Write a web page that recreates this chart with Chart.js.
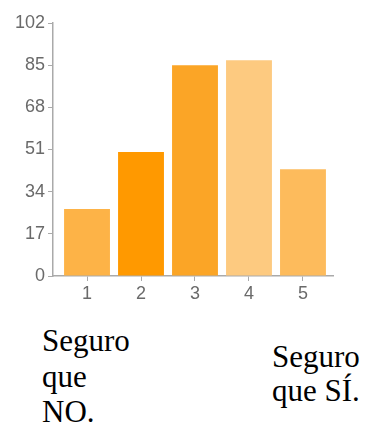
<!DOCTYPE html>
<html>
<head>
<meta charset="utf-8">
<script src="https://cdn.jsdelivr.net/npm/chart.js@4"></script>
<style>
  body { margin: 0; background: #fff; width: 366px; height: 424px; overflow: hidden; position: relative; }
  #wrap { position: absolute; left: 0; top: 0; width: 366px; height: 310px; }
  .note { position: absolute; font-family: 'Liberation Serif', 'Times New Roman', serif; font-size: 31px; color: #000; }
  #noteLeft { left: 42px; top: 323px; line-height: 35.5px; }
  #noteRight { left: 272px; top: 340px; line-height: 33.5px; }
</style>
</head>
<body>
<div id="wrap"><canvas id="chart" width="366" height="310"></canvas></div>
<div class="note" id="noteLeft">Seguro<br>que<br>NO.</div>
<div class="note" id="noteRight">Seguro<br>que SÍ.</div>
<script>
const categories = [1, 2, 3, 4, 5];
const answers = [27, 50, 85, 87, 43];
const barColors = ["#fdb347", "#ff9900", "#fba526", "#fdca80", "#fdbb5c"];
const yTicks = [0, 17, 34, 51, 68, 85, 102];

const axisGrey = "#aaaaaa";
const labelGrey = "#6a6a6a";
const tickFont = { family: "'Liberation Sans', Arial, sans-serif", size: 18 };

const ctx = document.getElementById("chart").getContext("2d");

new Chart(ctx, {
    type: "bar",
    data: {
        datasets: [{
            data: categories.map((c, i) => ({ x: c, y: answers[i] })),
            backgroundColor: barColors,
            borderWidth: 0,
            categoryPercentage: 1,
            barPercentage: 0.85
        }]
    },
    options: {
        responsive: false,
        animation: false,
        layout: { padding: { top: 23, right: 33, left: 0, bottom: 0 } },
        plugins: { legend: { display: false }, tooltip: { enabled: false } },
        scales: {
            x: {
                type: "linear",
                min: 0.37,
                max: 5.556,
                offset: false,
                grid: { offset: false, drawOnChartArea: false, drawTicks: true, tickLength: 5, color: axisGrey },
                border: { color: axisGrey, width: 1.5 },
                ticks: { stepSize: 1, includeBounds: false, padding: 2, color: labelGrey, font: tickFont },
                afterFit: scale => { scale.height = 34; }
            },
            y: {
                min: yTicks[0],
                max: yTicks[yTicks.length - 1],
                afterBuildTicks: scale => { scale.ticks = yTicks.map(v => ({ value: v })); },
                grid: { drawOnChartArea: false, drawTicks: true, tickLength: 5, color: axisGrey },
                border: { color: axisGrey, width: 1.5 },
                ticks: { padding: 3, color: labelGrey, font: tickFont },
                afterFit: scale => { scale.width = 53; }
            }
        }
    }
});
</script>
</body>
</html>
